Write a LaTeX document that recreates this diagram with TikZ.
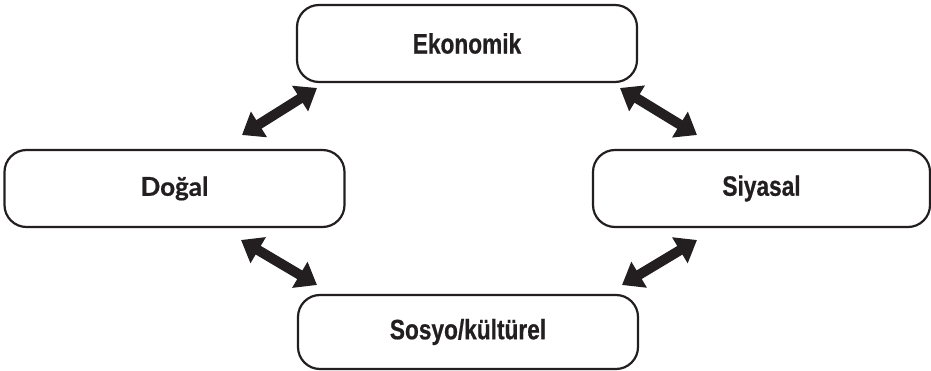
\documentclass[tikz,border=0pt]{standalone}
\usepackage{fontspec}
\usetikzlibrary{arrows.meta}
\newfontfamily\labelfont[FakeStretch=0.81,FakeBold=0.6]{Liberation Sans Bold}
\newfontfamily\roundfont[FakeBold=0.6]{Lato Bold}
\definecolor{ink}{HTML}{231F20}
\begin{document}
\begin{tikzpicture}[x=1pt,y=-1pt,
  box/.style={draw=ink, line width=2.2pt, rounded corners=22pt, fill=white,
    minimum width=340pt, minimum height=77pt, inner sep=0pt, text=ink,
    font=\labelfont\fontsize{28}{28}\selectfont},
  link/.style={ink, line width=10pt,
    {Triangle[length=20pt,width=29pt]}-{Triangle[length=20pt,width=29pt]}}]
  \path[fill=white] (0,0) rectangle (931,371);
  \useasboundingbox (0,0) rectangle (931,371);

  % the four spheres
  \node[box] (eko) at (467,43.5) {Ekonomik};
  \node[box, font=\roundfont\fontsize{26}{26}\selectfont] (dog) at (174.5,188.5) {Doğal};
  \node[box, minimum width=337pt] (siy) at (761.5,188.5) {Siyasal};
  \node[box, minimum height=74pt] (sos) at (468,332) {Sosyo/kültürel};

  % arrow ends between neighbouring boxes
  \coordinate (dogN) at (242,135);
  \coordinate (ekoW) at (317,88);
  \coordinate (ekoE) at (620,88);
  \coordinate (siyN) at (697,135);
  \coordinate (dogS) at (241,240);
  \coordinate (sosW) at (317,285);
  \coordinate (sosE) at (622,285);
  \coordinate (siyS) at (697,240);

  \draw[link] (dogN) -- (ekoW);
  \draw[link] (ekoE) -- (siyN);
  \draw[link] (dogS) -- (sosW);
  \draw[link] (sosE) -- (siyS);
\end{tikzpicture}
\end{document}
